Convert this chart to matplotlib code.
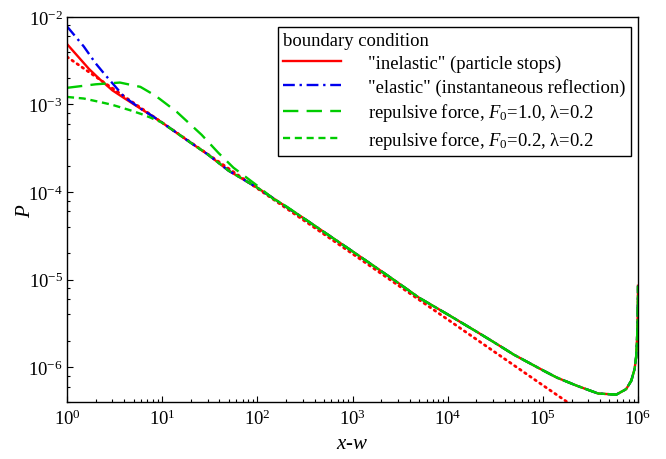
import matplotlib
matplotlib.use("Agg")
import matplotlib.pyplot as plt
from matplotlib.ticker import LogLocator, NullFormatter

plt.rcParams['font.family'] = ['Liberation Serif', 'DejaVu Serif']
plt.rcParams['mathtext.fontset'] = 'custom'
plt.rcParams['mathtext.rm'] = 'Liberation Serif'
plt.rcParams['mathtext.it'] = 'Liberation Serif:italic'
plt.rcParams['axes.unicode_minus'] = False

# common tail, all boundary conditions coincide here
x_tail = [10, 20, 30, 50, 100, 200, 300, 500, 1000, 2000, 3000, 5000, 1e4, 2e4, 3e4, 5e4,
          1e5, 1.4e5, 2.3e5, 3.8e5, 5.9e5, 7.5e5, 8.5e5, 9.2e5, 9.55e5, 9.8e5, 9.92e5, 1e6]
p_tail = [6.2e-4, 3.65e-4, 2.7e-4, 1.75e-4, 1.12e-4, 6.8e-5, 5.1e-5, 3.5e-5, 2.1e-5, 1.25e-5,
          9.2e-6, 6.2e-6, 4.0e-6, 2.55e-6, 1.95e-6, 1.38e-6, 9.2e-7, 7.6e-7, 6.1e-7, 5.0e-7,
          4.85e-7, 5.6e-7, 7.0e-7, 9.5e-7, 1.3e-6, 2.3e-6, 4.0e-6, 8.5e-6]

# near-boundary parts of each curve
x_inel = [1, 1.3, 1.7, 2.2, 3, 4, 6, 8]
p_inel = [4.9e-3, 3.55e-3, 2.55e-3, 1.95e-3, 1.45e-3, 1.18e-3, 8.9e-4, 7.3e-4]

x_elas = [1, 1.5, 2, 2.5, 3, 4, 6, 8]
p_elas = [7.8e-3, 4.6e-3, 2.95e-3, 2.2e-3, 1.75e-3, 1.22e-3, 8.9e-4, 7.3e-4]

x_f10 = [1, 2, 3.6, 5.9, 8.4, 9.5, 14.3, 21.3, 26, 39, 56, 100, 150, 200]
p_f10 = [1.55e-3, 1.7e-3, 1.78e-3, 1.59e-3, 1.27e-3, 1.15e-3, 8.2e-4, 5.5e-4, 4.5e-4,
         2.8e-4, 1.9e-4, 1.18e-4, 8.2e-5, 6.9e-5]

x_f02 = [1, 1.5, 2.2, 3, 4.6, 6, 7.5]
p_f02 = [1.22e-3, 1.17e-3, 1.07e-3, 9.9e-4, 8.6e-4, 7.8e-4, 7.1e-4]

# asymptotic power law (red dotted)
x_asym = [1, 10, 100, 1000, 1e4, 1e5, 2e5]
p_asym = [3.5e-3, 6.2e-4, 1.1e-4, 1.97e-5, 3.5e-6, 6.2e-7, 3.7e-7]

labels = ['"inelastic" (particle stops)',
          '"elastic" (instantaneous reflection)',
          'repulsive force, $F_0$=1.0, \u03bb=0.2',
          'repulsive force, $F_0$=0.2, \u03bb=0.2']

red = '#ff0000'
blue = '#0000ee'
green = '#00cc00'

fig = plt.figure(figsize=(6.66, 4.6), dpi=100)
ax = fig.add_axes([0.1006, 0.124, 0.8574, 0.837])

ax.plot(x_asym, p_asym, color=red, lw=2, ls=(0, (0.6, 1.6)), dash_capstyle='round')
l1, = ax.plot(x_inel + x_tail, p_inel + p_tail, color=red, lw=1.7)
l2, = ax.plot(x_elas + x_tail, p_elas + p_tail, color=blue, lw=1.7, ls=(0, (5, 2, 1, 2)))
x_f10_tail = [x for x in x_tail if x > 200]
p_f10_tail = [p for x, p in zip(x_tail, p_tail) if x > 200]
l3, = ax.plot(x_f10 + x_f10_tail, p_f10 + p_f10_tail, color=green, lw=1.7, ls=(0, (6.5, 3.5)))
l4, = ax.plot(x_f02 + x_tail, p_f02 + p_tail, color=green, lw=1.7, ls=(0, (3, 2)))

ax.set_xscale('log')
ax.set_yscale('log')
ax.set_xlim(1, 1e6)
ax.set_ylim(4e-7, 1e-2)

ax.yaxis.set_minor_locator(LogLocator(base=10, subs=(2, 4, 6, 8)))
ax.yaxis.set_minor_formatter(NullFormatter())
ax.xaxis.set_minor_locator(LogLocator(base=10, subs=tuple(range(2, 10))))
ax.xaxis.set_minor_formatter(NullFormatter())

ax.tick_params(which='both', direction='in', top=False, right=False, labelsize=13.5, width=0.8)
ax.tick_params(which='major', length=4)
ax.tick_params(which='minor', length=2.5)
ax.tick_params(axis='y', pad=3)
ax.tick_params(axis='x', pad=5)
for s in ax.spines.values():
    s.set_linewidth(1.0)

ax.set_xlabel('$x$-$w$', fontsize=15, labelpad=4)
ax.set_ylabel('$P$', fontsize=15, labelpad=-5)

leg = ax.legend([l1, l2, l3, l4], labels, title='boundary condition', loc='upper right',
                bbox_to_anchor=(0.988, 0.975), fontsize=13.4, title_fontsize=13.4,
                frameon=True, fancybox=False, edgecolor='black', framealpha=1,
                handlelength=3.1, handletextpad=1.45, labelspacing=0.3, borderpad=0.3,
                borderaxespad=0, alignment='left')
leg.get_frame().set_linewidth(1.0)

fig.savefig('out.png', dpi=100)
